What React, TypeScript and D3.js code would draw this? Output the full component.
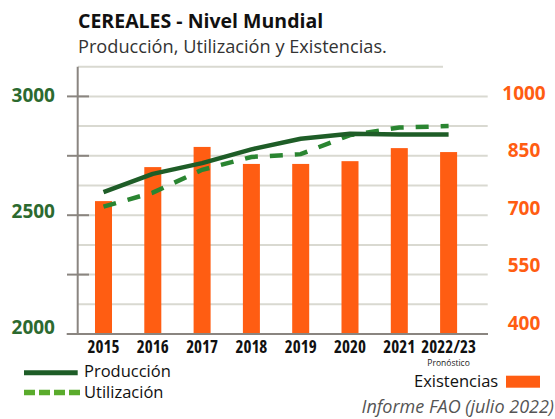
import React from "react";
import * as d3 from "d3";

const categories = ["2015", "2016", "2017", "2018", "2019", "2020", "2021", "2022/23"];
const produccion = [2597, 2674, 2719, 2777, 2822, 2843, 2840, 2840];
const utilizacion = [2536, 2595, 2691, 2745, 2757, 2837, 2869, 2875];
const existencias = [736, 822, 873, 830, 830, 837, 870, 860];
const leftTickLabels = [2000, 2500, 3000];
const leftMajorTicks = [2000, 2250, 2500, 2750, 3000];
const gridValues = [2125, 2250, 2375, 2500, 2625, 2750, 2875, 3000];
const rightTickLabels = [400, 550, 700, 850, 1000];

const W = 555;
const H = 419;
const GREEN_DARK = "#1e5d27";
const GREEN_DASH = "#2a8531";
const GREEN_LEG = "#5aab2c";
const GREEN_TXT = "#2c6a2f";
const ORANGE = "#ff5d12";
const AXIS = "#8a8580";
const GRID = "#d9d9d1";
const FONT = "'Open Sans', 'Noto Sans', sans-serif";

export default function App() {
  const x = d3
    .scaleBand<string>()
    .domain(categories)
    .range([78.85, 473.25])
    .paddingInner(0.655)
    .paddingOuter(0.3275);
  const yL = d3.scaleLinear().domain([2000, 3125]).range([334, 66.7]);
  const yR = d3.scaleLinear().domain([400, 1000]).range([334, 96.7]);
  const yLLabel = d3.scaleLinear().domain([2000, 3000]).range([327, 95]);
  const yRLabel = d3.scaleLinear().domain([400, 1000]).range([323, 93]);
  const cx = (c: string) => (x(c) as number) + x.bandwidth() / 2;

  const line = d3
    .line<number>()
    .x((_, i) => cx(categories[i]))
    .y((d) => yL(d));

  return (
    <svg width={W} height={H} style={{ position: "absolute", left: 0, top: 0, background: "#fff" }}>
      <rect x={0} y={0} width={W} height={H} fill="#fff" />
      {/* Title */}
      <text x={78} y={28} fontFamily={FONT} fontWeight={700} fontSize={19.5} fill="#111">
        CEREALES - Nivel Mundial
      </text>
      <text x={78} y={53} fontFamily={FONT} fontSize={18.2} fill="#333">
        Producción, Utilización y Existencias.
      </text>

      {/* top border */}
      <line x1={78} x2={443} y1={yL(3125)} y2={yL(3125)} stroke={GRID} strokeWidth={2} />
      {/* grid */}
      {gridValues.map((v) => (
        <line key={v} x1={78} x2={487.7} y1={yL(v)} y2={yL(v)} stroke={GRID} strokeWidth={2} />
      ))}

      {/* bars */}
      {existencias.map((v, i) => (
        <rect
          key={categories[i]}
          x={x(categories[i])}
          width={x.bandwidth()}
          y={yR(v)}
          height={yR(400) - yR(v)}
          fill={ORANGE}
        />
      ))}

      {/* axes */}
      <line x1={77.7} x2={77.7} y1={yL(3125)} y2={yL(2000)} stroke={AXIS} strokeWidth={2} />
      {leftMajorTicks.map((v) => (
        <line key={v} x1={67} x2={89} y1={yL(v)} y2={yL(v)} stroke={AXIS} strokeWidth={2} />
      ))}
      <line x1={66.7} x2={488} y1={yL(2000)} y2={yL(2000)} stroke={AXIS} strokeWidth={2} />

      {/* lines */}
      <path d={line(utilizacion) || ""} fill="none" stroke={GREEN_DASH} strokeWidth={4.5} strokeDasharray="13,12" />
      <path d={line(produccion) || ""} fill="none" stroke={GREEN_DARK} strokeWidth={4.5} strokeLinejoin="round" />

      {/* left labels */}
      {leftTickLabels.map((v) => (
        <text
          key={v}
          x={55}
          y={yLLabel(v)}
          dy="0.36em"
          textAnchor="end"
          fontFamily={FONT}
          fontWeight={700}
          fontSize={19}
          fill={GREEN_TXT}
        >
          {v}
        </text>
      ))}
      {/* right labels */}
      {rightTickLabels.map((v) => (
        <text
          key={v}
          x={524}
          y={yRLabel(v)}
          dy="0.36em"
          textAnchor="middle"
          fontFamily={FONT}
          fontWeight={700}
          fontSize={19}
          fill={ORANGE}
        >
          {v}
        </text>
      ))}

      {/* x labels */}
      {categories.map((c) => (
        <text
          key={c}
          x={cx(c)}
          y={353}
          textAnchor="middle"
          fontFamily={FONT}
          fontWeight={700}
          fontSize={17}
          fill="#111"
          style={{ fontStretch: "condensed" }}
        >
          {c}
        </text>
      ))}
      <text x={cx("2022/23")} y={366} textAnchor="middle" fontFamily={FONT} fontSize={8.5} fill="#222">
        Pronóstico
      </text>

      {/* legend */}
      <line x1={24} x2={77.7} y1={372.8} y2={372.8} stroke={GREEN_DARK} strokeWidth={5} />
      <text x={84} y={377} fontFamily={FONT} fontSize={16.5} fill="#111">
        Producción
      </text>
      <line x1={24} x2={80} y1={392.5} y2={392.5} stroke={GREEN_LEG} strokeWidth={5.5} strokeDasharray="11,4" />
      <text x={84} y={398} fontFamily={FONT} fontSize={16.5} fill="#111">
        Utilización
      </text>

      <text x={414} y={387} fontFamily={FONT} fontSize={16.5} fill="#111">
        Existencias
      </text>
      <rect x={506} y={375.7} width={34} height={12} fill={ORANGE} />

      <text x={554} y={413} textAnchor="end" fontFamily={FONT} fontStyle="italic" fontSize={18} fill="#555">
        Informe FAO (julio 2022)
      </text>
    </svg>
  );
}
